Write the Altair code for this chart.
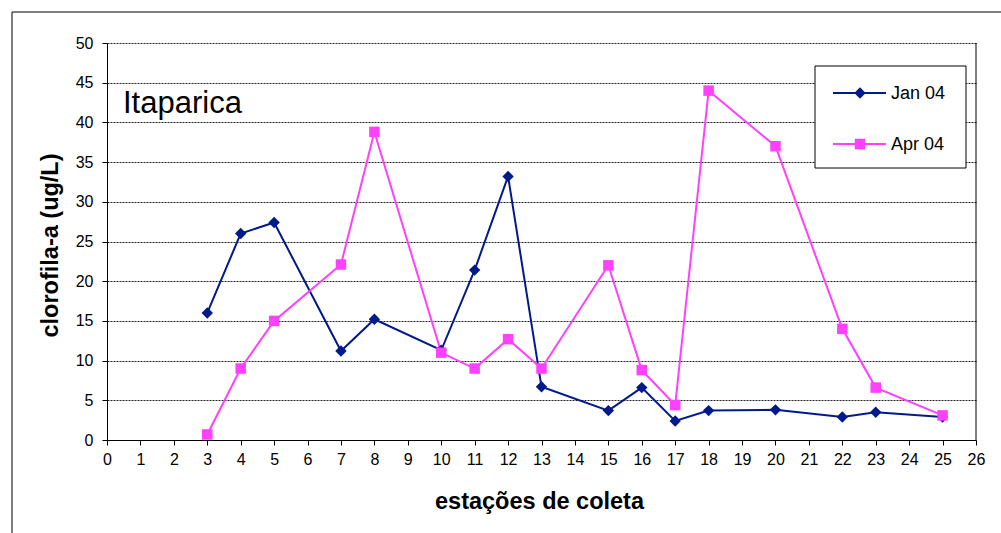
import altair as alt
import pandas as pd

# Collection stations (x) and chlorophyll-a readings (ug/L) for each campaign
stations_jan = [3, 4, 5, 7, 8, 10, 11, 12, 13, 15, 16, 17, 18, 20, 22, 23, 25]
values_jan = [16.0, 26.0, 27.4, 11.2, 15.2, 11.3, 21.4, 33.2, 6.7, 3.7, 6.6, 2.4, 3.7, 3.8, 2.9, 3.5, 2.9]

stations_apr = [3, 4, 5, 7, 8, 10, 11, 12, 13, 15, 16, 17, 18, 20, 22, 23, 25]
values_apr = [0.7, 9.0, 15.0, 22.1, 38.8, 11.0, 9.0, 12.7, 9.0, 22.0, 8.8, 4.4, 44.0, 37.0, 14.0, 6.6, 3.1]

series_names = ["Jan 04", "Apr 04"]
series_colors = ["#001a8c", "#ff40ff"]
series_shapes = ["diamond", "square"]
series_sizes = [130, 110]

x_ticks = list(range(0, 27))
y_ticks = list(range(0, 51, 5))

chart_title = "Itaparica"
x_title = "estações de coleta"
y_title = "clorofila-a (ug/L)"

FONT = "Liberation Sans"
W, H = 869, 397

df = pd.concat([
    pd.DataFrame({"estacao": stations_jan, "clorofila": values_jan, "serie": series_names[0]}),
    pd.DataFrame({"estacao": stations_apr, "clorofila": values_apr, "serie": series_names[1]}),
])

x_enc = alt.X(
    "estacao:Q",
    scale=alt.Scale(domain=[0, 26], nice=False, zero=True),
    axis=alt.Axis(
        values=x_ticks, tickCount=27, grid=False, tickSize=5, tickColor="#000", domainColor="#000",
        labelFont=FONT, labelFontSize=16, labelColor="#000", labelPadding=6,
        labelFlush=False, labelOverlap=False,
        title=x_title, titleFont=FONT, titleFontSize=23.5, titleFontWeight="bold",
        titleColor="#000", titleX=432, titleY=61, titleBaseline="middle",
    ),
)
y_enc = alt.Y(
    "clorofila:Q",
    scale=alt.Scale(domain=[0, 50], nice=False),
    axis=alt.Axis(
        values=y_ticks, tickCount=11, grid=True, gridColor="#222", gridDash=[2, 1], gridWidth=1,
        tickSize=5, tickColor="#000", domainColor="#000",
        labelFont=FONT, labelFontSize=16, labelColor="#000", labelPadding=9,
        labelFlush=False, labelOverlap=False,
        title=y_title, titleFont=FONT, titleFontSize=23.5, titleFontWeight="bold",
        titleColor="#000", titleX=-57, titleY=202, titleBaseline="middle", titleAngle=-90,
    ),
)

color_enc = alt.Color("serie:N", scale=alt.Scale(domain=series_names, range=series_colors), legend=None)
shape_enc = alt.Shape("serie:N", scale=alt.Scale(domain=series_names, range=series_shapes), legend=None)
size_enc = alt.Size("serie:N", scale=alt.Scale(domain=series_names, range=series_sizes), legend=None)

lines = alt.Chart(df).mark_line(strokeWidth=2).encode(x=x_enc, y=y_enc, color=color_enc, detail="serie:N")
points = alt.Chart(df).mark_point(filled=True, opacity=1, strokeWidth=0).encode(
    x=x_enc, y=y_enc, color=color_enc, shape=shape_enc, size=size_enc
)

one = pd.DataFrame({"t": [chart_title]})

# Outer chart frame and right edge of the plot area
frame = alt.Chart(one).mark_rect(fill=None, stroke="#000", strokeWidth=1).encode(
    x=alt.value(-95), x2=alt.value(2000), y=alt.value(-31), y2=alt.value(2000)
)
right_edge = alt.Chart(one).mark_rule(color="#000", strokeWidth=1).encode(
    x=alt.value(W), y=alt.value(0), y2=alt.value(H)
)

title_text = alt.Chart(one).mark_text(
    font=FONT, fontSize=31, align="left", baseline="alphabetic", color="#000"
).encode(x=alt.value(16), y=alt.value(70), text="t:N")

# Legend box with a line + marker sample per series
legend_box = alt.Chart(one).mark_rect(fill="white", stroke="#000", strokeWidth=1).encode(
    x=alt.value(708), x2=alt.value(859), y=alt.value(23), y2=alt.value(125)
)
legend_layers = [legend_box]
legend_rows_y = [50, 101]
for name, col, shp, sz, ly in zip(series_names, series_colors, series_shapes, series_sizes, legend_rows_y):
    d = pd.DataFrame({"label": [name]})
    legend_layers.append(
        alt.Chart(d).mark_rule(color=col, strokeWidth=2).encode(
            x=alt.value(726), x2=alt.value(779), y=alt.value(ly)
        )
    )
    legend_layers.append(
        alt.Chart(d).mark_point(filled=True, opacity=1, strokeWidth=0, shape=shp, size=sz, color=col).encode(
            x=alt.value(753), y=alt.value(ly)
        )
    )
    legend_layers.append(
        alt.Chart(d).mark_text(font=FONT, fontSize=18, align="left", baseline="middle", color="#000").encode(
            x=alt.value(784), y=alt.value(ly + 1), text="label:N"
        )
    )

chart = alt.layer(
    frame, lines, points, right_edge, title_text, *legend_layers
).properties(
    width=W, height=H,
    autosize=alt.AutoSizeParams(type="none"),
    padding={"left": 107, "top": 43, "right": 25, "bottom": 93},
    background="white",
).configure_view(stroke=None)

chart.save("out.html", embed_options={"renderer": "svg", "actions": False})
